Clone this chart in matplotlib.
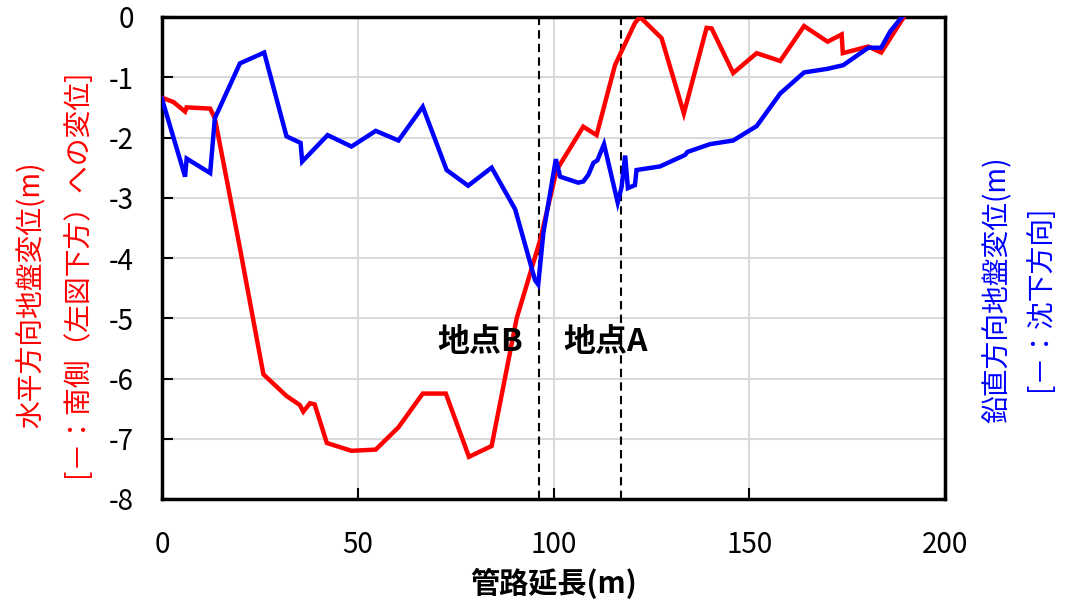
import matplotlib.pyplot as plt

plt.rcParams['font.family'] = ['Noto Sans CJK JP', 'DejaVu Sans']
plt.rcParams['axes.unicode_minus'] = False

# 管路延長(m) と水平方向地盤変位(m)
dist_h = [0, 2.9, 5.9, 6.3, 12.3, 13.5, 19.8, 25.9, 31.8, 35.2, 36.1, 37.8, 39.0,
          42.1, 48.4, 54.6, 60.4, 66.6, 72.5, 78.4, 84.2, 90.6, 96.6, 100.8,
          107.6, 111.0, 115.7, 120.8, 122.1, 127.6, 133.3, 139.1, 140.4, 145.9,
          151.9, 157.9, 164.0, 170.0, 173.6, 173.9, 180.4, 183.7, 189.5]
disp_h = [-1.34, -1.41, -1.57, -1.50, -1.52, -1.68, -3.80, -5.93, -6.29, -6.44, -6.55,
          -6.41, -6.43, -7.07, -7.20, -7.18, -6.81, -6.25, -6.25, -7.30, -7.12,
          -5.00, -3.70, -2.54, -1.82, -1.96, -0.80, -0.10, 0.0, -0.35, -1.60,
          -0.18, -0.19, -0.93, -0.60, -0.73, -0.15, -0.41, -0.29, -0.60, -0.49,
          -0.59, 0.0]

# 管路延長(m) と鉛直方向地盤変位(m)
dist_v = [0, 5.9, 6.3, 12.3, 13.5, 19.9, 26.1, 31.8, 35.4, 35.8, 42.3, 48.4, 54.6,
          60.4, 66.6, 72.7, 78.2, 84.2, 90.2, 95.3, 96.1, 97.4, 100.6, 101.7,
          106.3, 107.6, 108.9, 110.2, 111.2, 112.9, 116.4, 117.4, 118.3, 119.0,
          120.8, 121.2, 127.2, 133.6, 134.2, 140.0, 145.9, 151.9, 157.9, 164.0,
          170.0, 174.0, 180.4, 183.7, 186.0, 189.0]
disp_v = [-1.36, -2.65, -2.35, -2.59, -1.68, -0.77, -0.59, -1.98, -2.09, -2.40, -1.96,
          -2.15, -1.89, -2.05, -1.49, -2.54, -2.80, -2.50, -3.19, -4.37, -4.44,
          -3.59, -2.36, -2.65, -2.75, -2.73, -2.62, -2.42, -2.38, -2.11, -3.08,
          -2.82, -2.30, -2.84, -2.79, -2.54, -2.48, -2.29, -2.24, -2.11, -2.05,
          -1.81, -1.27, -0.92, -0.86, -0.80, -0.51, -0.51, -0.24, 0.0]

# 地点の位置(m)
points = {'地点B': 96.3, '地点A': 117.2}
label_pos = {'地点B': (81.2, -5.4), '地点A': (113.3, -5.4)}

fig = plt.figure(figsize=(10.74, 6.06), dpi=100)
ax = fig.add_axes([162 / 1074, 1 - 499 / 606, 783 / 1074, 482 / 606])

ax.plot(dist_h, disp_h, color='#ff0000', lw=3.2, zorder=3, solid_joinstyle='miter')
ax.plot(dist_v, disp_v, color='#0000ff', lw=3.2, zorder=4, solid_joinstyle='miter')

for name, x in points.items():
    ax.axvline(x, color='black', lw=1.5, linestyle=(0, (4, 2.5)), zorder=2)
    tx, ty = label_pos[name]
    ax.text(tx, ty, name, fontsize=23, fontweight='bold', ha='center', va='center', zorder=5)

ax.set_xlim(0, 200)
ax.set_ylim(-8, 0)
ax.set_xticks([0, 50, 100, 150, 200])
ax.set_yticks(range(-8, 1))
ax.grid(True, color='#d9d9d9', lw=1.5, zorder=0)
ax.set_axisbelow(True)
ax.tick_params(axis='x', direction='in', length=8, width=1.5, labelsize=20, pad=22)
ax.tick_params(axis='y', direction='in', length=8, width=1.5, labelsize=20, pad=20)
for s in ax.spines.values():
    s.set_linewidth(2.5)

ax.set_xlabel('管路延長(m)', fontsize=21, fontweight='bold', labelpad=6)

fig.text(32 / 1074, 1 - 295 / 606, '水平方向地盤変位(m)', color='#ff0000', fontsize=20,
         rotation=90, ha='center', va='center')
fig.text(77 / 1074, 1 - 273 / 606, '[－：南側（左図下方）への変位]', color='#ff0000', fontsize=20,
         rotation=90, ha='center', va='center')
fig.text(998 / 1074, 1 - 290 / 606, '鉛直方向地盤変位(m)', color='#0000ff', fontsize=20,
         rotation=90, ha='center', va='center')
fig.text(1040 / 1074, 1 - 298 / 606, '[－：沈下方向]', color='#0000ff', fontsize=20,
         rotation=90, ha='center', va='center')

fig.savefig('out.png', dpi=100)
